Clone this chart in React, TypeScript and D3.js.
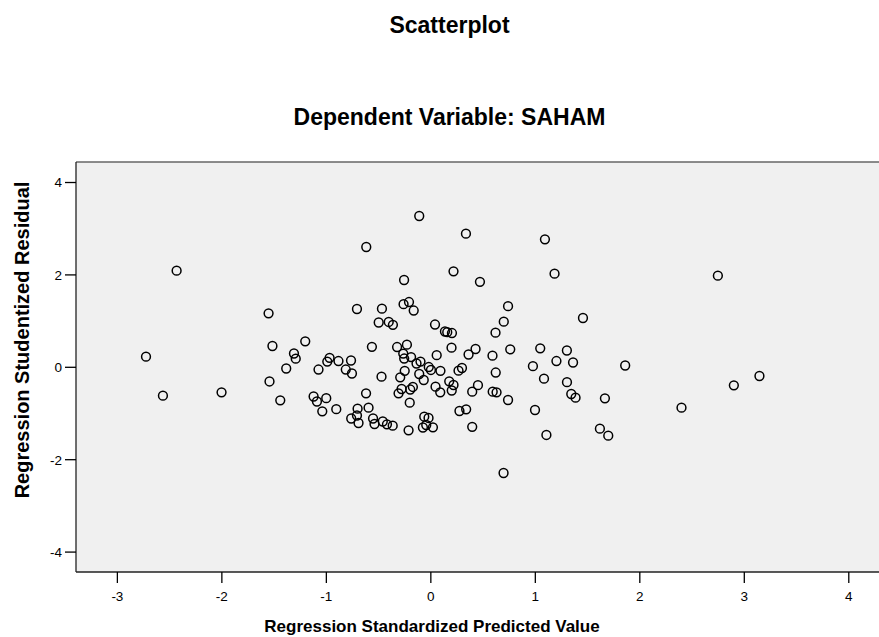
import * as d3 from "d3";

// regression standardized predicted value (x) and studentized residual (y)
const predicted: number[] = [
  -2.433, -1.553, -0.707, -1.516, -1.202, -2.726, -1.31, -1.293, -1.384, -0.969,
  -0.991, -0.884, -0.764, -1.075, -0.814, -0.755, -0.468, -0.256, -0.261, -0.209,
  -0.164, -0.499, -0.403, -0.363, -1.544, -1.441, -0.564, -0.472, -0.323, -0.229,
  -0.264, -0.255, -0.189, -0.137, -0.25, -0.293, -0.111, -0.28, -0.309, -0.197,
  -0.172, -0.202, -0.62, -0.596, -0.701, -0.762, -0.692, -0.707, -0.553, -0.539,
  -0.46, -0.42, -0.365, -0.213, -1.122, -1.09, -1.001, -1.039, -0.905, -2.564,
  -2.003, -0.111, 0.336, 1.092, -0.618, 0.217, 0.47, 1.184, 1.456, 0.739,
  0.698, 0.619, 0.04, 0.135, 0.157, 0.202, 0.198, 0.361, 0.428, 0.59,
  0.76, 1.047, 1.302, 1.202, 1.361, 0.977, 1.083, 1.303, 1.344, 1.385,
  0.621, -0.099, -0.02, 0.001, 0.056, 0.092, -0.068, 0.045, 0.09, 0.176,
  0.217, 0.2, 0.396, 0.451, 0.265, 0.298, 0.592, 0.629, 0.739, -0.063,
  -0.022, -0.076, 0.02, -0.044, 0.274, 0.338, 0.396, 0.997, 1.106, 1.86,
  2.747, 2.399, 2.9, 3.145, 0.696, 1.618, 1.698, 1.666,
];
const residual: number[] = [
  2.091, 1.169, 1.262, 0.461, 0.563, 0.229, 0.299, 0.186, -0.026, 0.206,
  0.123, 0.136, 0.147, -0.048, -0.048, -0.134, 1.268, 1.89, 1.366, 1.413,
  1.229, 0.97, 0.981, 0.92, -0.307, -0.714, 0.444, -0.203, 0.439, 0.489,
  0.297, 0.19, 0.221, 0.082, -0.076, -0.216, -0.145, -0.47, -0.563, -0.481,
  -0.426, -0.766, -0.563, -0.874, -0.896, -1.108, -1.206, -1.043, -1.108, -1.227,
  -1.173, -1.234, -1.264, -1.364, -0.632, -0.74, -0.669, -0.952, -0.907, -0.615,
  -0.541, 3.275, 2.892, 2.771, 2.604, 2.078, 1.851, 2.026, 1.067, 1.323,
  0.987, 0.749, 0.926, 0.775, 0.76, 0.742, 0.424, 0.277, 0.396, 0.251,
  0.39, 0.411, 0.364, 0.136, 0.104, 0.024, -0.247, -0.323, -0.578, -0.658,
  -0.113, 0.123, 0.006, -0.058, 0.262, -0.076, -0.275, -0.42, -0.541, -0.303,
  -0.383, -0.502, -0.528, -0.387, -0.074, -0.015, -0.528, -0.541, -0.708, -1.069,
  -1.097, -1.303, -1.299, -1.249, -0.946, -0.909, -1.288, -0.924, -1.465, 0.039,
  1.983, -0.874, -0.39, -0.188, -2.288, -1.329, -1.481, -0.671,
];

const xTicks: number[] = [-3, -2, -1, 0, 1, 2, 3, 4];
const yTicks: number[] = [-4, -2, 0, 2, 4];

const title = "Scatterplot";
const subtitle = "Dependent Variable: SAHAM";
const xLabel = "Regression Standardized Predicted Value";
const yLabel = "Regression Studentized Residual";

export default function App() {
  const w = 879;
  const h = 637;
  const left = 76;
  const right = 884;
  const top = 162;
  const bottom = 572;

  const xScale = d3.scaleLinear().domain([-3.396, 4.337]).range([left, right]);
  const yScale = d3.scaleLinear().domain([-4.431, 4.444]).range([bottom, top]);

  const points = predicted.map((p, i) => ({ x: p, y: residual[i] }));
  const font = "'Liberation Sans', Arial, sans-serif";

  return (
    <svg
      width={w}
      height={h}
      style={{ position: "absolute", left: 0, top: 0, background: "#fff" }}
      fontFamily={font}
    >
      {/* titles */}
      <text x={449.5} y={33} textAnchor="middle" fontSize={23} fontWeight="bold">
        {title}
      </text>
      <text x={449.5} y={125} textAnchor="middle" fontSize={23} fontWeight="bold">
        {subtitle}
      </text>

      {/* plot area */}
      <rect x={left} y={top} width={right - left} height={bottom - top} fill="#f0f0f0" />
      <line x1={left} x2={right} y1={top} y2={top} stroke="#666" strokeWidth={1.5} />
      <line x1={left} x2={left} y1={top} y2={bottom} stroke="#222" strokeWidth={1.3} />
      <line x1={left} x2={right} y1={bottom} y2={bottom} stroke="#222" strokeWidth={1.3} />

      {/* y axis */}
      {yTicks.map((t) => (
        <g key={"y" + t} transform={`translate(0,${yScale(t)})`}>
          <line x1={left - 11} x2={left} stroke="#000" strokeWidth={1.3} />
          <text x={left - 14} dy="0.36em" textAnchor="end" fontSize={13.5}>
            {t}
          </text>
        </g>
      ))}

      {/* x axis */}
      {xTicks.map((t) => (
        <g key={"x" + t} transform={`translate(${xScale(t)},0)`}>
          <line y1={bottom} y2={bottom + 11} stroke="#000" strokeWidth={1.3} />
          <text y={bottom + 29} textAnchor="middle" fontSize={13.5}>
            {t}
          </text>
        </g>
      ))}

      {/* markers */}
      {points.map((d, i) => (
        <circle
          key={i}
          cx={xScale(d.x)}
          cy={yScale(d.y)}
          r={4.4}
          fill="none"
          stroke="#000"
          strokeWidth={1.5}
        />
      ))}

      {/* axis titles */}
      <text x={432} y={632} textAnchor="middle" fontSize={17} fontWeight="bold">
        {xLabel}
      </text>
      <text
        transform={`translate(29,340) rotate(-90)`}
        textAnchor="middle"
        fontSize={20}
        fontWeight="bold"
      >
        {yLabel}
      </text>
    </svg>
  );
}
